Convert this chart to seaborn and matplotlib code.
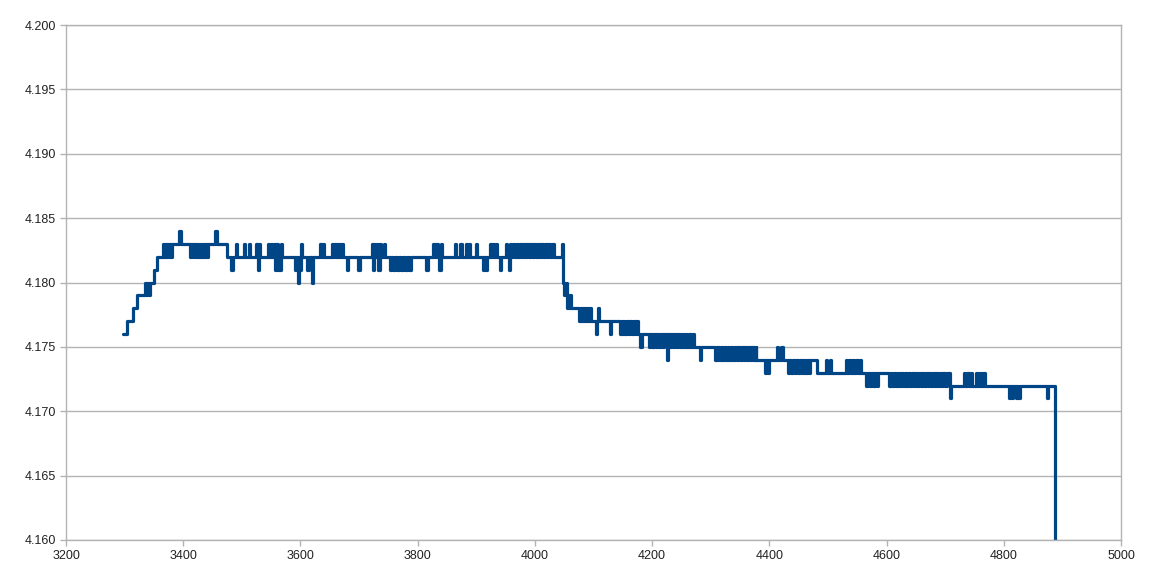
import matplotlib
matplotlib.use("Agg")
import matplotlib.pyplot as plt
import seaborn as sns
import pandas as pd

# sample position (x) and cell voltage in mV
rise_x = [3297, 3304, 3314, 3321, 3335, 3337, 3339, 3341, 3343, 3350, 3355,
          3366, 3367, 3369, 3371, 3373, 3375, 3377, 3379, 3381, 3393, 3396]
rise_mv = [4176, 4177, 4178, 4179, 4180, 4179, 4180, 4179, 4180, 4181, 4182,
           4183, 4182, 4183, 4182, 4183, 4182, 4183, 4182, 4183, 4184, 4183]

plateau_x = [3412, 3414, 3416, 3418, 3421, 3423, 3426, 3428, 3431, 3433, 3436, 3438,
             3441, 3443, 3455, 3458, 3475, 3482, 3485, 3490, 3492, 3503, 3505, 3512,
             3514, 3525, 3527, 3529, 3531, 3544, 3546, 3549, 3551, 3555, 3557, 3559,
             3561, 3563, 3565, 3567, 3569, 3590, 3592, 3595, 3597, 3599, 3601, 3603,
             3612, 3614, 3619, 3621, 3634, 3636, 3639, 3641, 3654, 3656, 3658, 3660,
             3662, 3664, 3667, 3669, 3671, 3673, 3679, 3681, 3699, 3701,
             3722, 3724, 3726, 3728, 3730, 3732, 3736, 3738, 3743, 3745,
             3753, 3755, 3758, 3762, 3765, 3768, 3771, 3775, 3778, 3782, 3785, 3789,
             3815, 3817, 3827, 3829, 3832, 3834, 3837, 3839, 3841,
             3864, 3866, 3873, 3875, 3882, 3884, 3887, 3889, 3899, 3901,
             3911, 3913, 3916, 3918, 3923, 3925, 3929, 3931, 3934, 3936,
             3941, 3943, 3950, 3952, 3956, 3958, 3960, 3963, 3966, 3969, 3972, 3975,
             3978, 3981, 3984, 3987, 3990, 3993, 3996, 3999, 4002, 4005, 4008, 4011,
             4014, 4017, 4020, 4023, 4026, 4029, 4032, 4046]
plateau_mv = [4182, 4183, 4182, 4183, 4182, 4183, 4182, 4183, 4182, 4183, 4182, 4183,
              4182, 4183, 4184, 4183, 4182, 4181, 4182, 4183, 4182, 4183, 4182, 4183,
              4182, 4183, 4181, 4183, 4182, 4183, 4182, 4183, 4182, 4183, 4181, 4183,
              4181, 4182, 4181, 4183, 4182, 4181, 4182, 4180, 4182, 4181, 4183, 4182,
              4181, 4182, 4180, 4182, 4183, 4182, 4183, 4182, 4183, 4182, 4183, 4182,
              4183, 4182, 4183, 4182, 4183, 4182, 4181, 4182, 4181, 4182,
              4183, 4181, 4183, 4182, 4183, 4181, 4183, 4182, 4183, 4182,
              4181, 4182, 4181, 4182, 4181, 4182, 4181, 4182, 4181, 4182, 4181, 4182,
              4181, 4182, 4183, 4182, 4183, 4182, 4181, 4183, 4182,
              4183, 4182, 4183, 4182, 4183, 4182, 4183, 4182, 4183, 4182,
              4181, 4182, 4181, 4182, 4183, 4182, 4183, 4182, 4183, 4182,
              4181, 4182, 4183, 4182, 4181, 4183, 4182, 4183, 4182, 4183, 4182, 4183,
              4182, 4183, 4182, 4183, 4182, 4183, 4182, 4183, 4182, 4183, 4182, 4183,
              4182, 4183, 4182, 4183, 4182, 4183, 4182, 4183]

drop_x = [4048, 4050, 4052, 4054, 4056, 4058, 4060, 4061,
          4076, 4078, 4080, 4082, 4084, 4086, 4088, 4090, 4092, 4094, 4096, 4098,
          4104, 4106, 4108, 4110, 4128, 4130,
          4146, 4148, 4150, 4152, 4154, 4157, 4160, 4163, 4166, 4169, 4172, 4174,
          4176, 4180, 4182,
          4194, 4197, 4200, 4203, 4206, 4209, 4212, 4215, 4218, 4221, 4225, 4227,
          4230, 4233, 4236, 4239, 4242, 4245, 4248, 4251, 4254, 4257, 4260, 4263,
          4266, 4269, 4271, 4282, 4284]
drop_mv = [4180, 4179, 4180, 4178, 4179, 4178, 4179, 4178,
           4177, 4178, 4177, 4178, 4177, 4178, 4177, 4178, 4177, 4178, 4177, 4177,
           4176, 4177, 4178, 4177, 4176, 4177,
           4176, 4177, 4176, 4177, 4176, 4177, 4176, 4177, 4176, 4177, 4176, 4177,
           4176, 4175, 4176,
           4175, 4176, 4175, 4176, 4175, 4176, 4175, 4176, 4175, 4176, 4174, 4176,
           4175, 4176, 4175, 4176, 4175, 4176, 4175, 4176, 4175, 4176, 4175, 4176,
           4175, 4176, 4175, 4174, 4175]

tail_x = [4308, 4311, 4314, 4317, 4320, 4323, 4326, 4329, 4332, 4335, 4338, 4341,
          4344, 4347, 4350, 4353, 4356, 4359, 4362, 4365, 4368, 4371, 4374, 4377,
          4378, 4393, 4395, 4398, 4400, 4413, 4415, 4420, 4423,
          4431, 4434, 4437, 4440, 4443, 4446, 4449, 4452, 4455, 4458, 4461, 4464,
          4467, 4470, 4474, 4481, 4496, 4498, 4503, 4505,
          4530, 4533, 4536, 4539, 4542, 4545, 4548, 4551, 4554, 4557,
          4565, 4568, 4571, 4574, 4577, 4580, 4583, 4585,
          4604, 4607, 4610, 4613, 4616, 4619, 4622, 4625, 4628, 4631, 4634, 4637,
          4640, 4643, 4646, 4649, 4652, 4655, 4658, 4661, 4664, 4667, 4670, 4673,
          4676, 4679, 4682, 4685, 4688, 4691, 4694, 4697, 4700, 4703,
          4708, 4710, 4732, 4734, 4738, 4740, 4744, 4746, 4752, 4754, 4757, 4759,
          4762, 4764, 4766, 4768,
          4809, 4811, 4814, 4816, 4820, 4822, 4825, 4827, 4874, 4876, 4887]
tail_mv = [4174, 4175, 4174, 4175, 4174, 4175, 4174, 4175, 4174, 4175, 4174, 4175,
           4174, 4175, 4174, 4175, 4174, 4175, 4174, 4175, 4174, 4175, 4174, 4175,
           4174, 4173, 4174, 4173, 4174, 4175, 4174, 4175, 4174,
           4173, 4174, 4173, 4174, 4173, 4174, 4173, 4174, 4173, 4174, 4173, 4174,
           4173, 4174, 4174, 4173, 4174, 4173, 4174, 4173,
           4174, 4173, 4174, 4173, 4174, 4173, 4174, 4173, 4174, 4173,
           4172, 4173, 4172, 4173, 4172, 4173, 4172, 4173,
           4172, 4173, 4172, 4173, 4172, 4173, 4172, 4173, 4172, 4173, 4172, 4173,
           4172, 4173, 4172, 4173, 4172, 4173, 4172, 4173, 4172, 4173, 4172, 4173,
           4172, 4173, 4172, 4173, 4172, 4173, 4172, 4173, 4172, 4173,
           4171, 4172, 4173, 4172, 4173, 4172, 4173, 4172, 4173, 4172, 4173, 4172,
           4173, 4172, 4173, 4172,
           4171, 4172, 4171, 4172, 4171, 4172, 4171, 4172, 4171, 4172, 4160]

x_ticks = [3200, 3400, 3600, 3800, 4000, 4200, 4400, 4600, 4800, 5000]
y_ticks = [4.160, 4.165, 4.170, 4.175, 4.180, 4.185, 4.190, 4.195, 4.200]

df = pd.DataFrame({
    "x": rise_x + plateau_x + drop_x + tail_x,
    "v": [m / 1000 for m in rise_mv + plateau_mv + drop_mv + tail_mv],
})

sns.set_theme(style="white")
plt.rcParams["font.family"] = ["Liberation Sans", "DejaVu Sans"]

fig = plt.figure(figsize=(11.65, 5.79), dpi=100)
ax = fig.add_axes([66 / 1165, 1 - 540 / 579, (1121 - 66) / 1165, (540 - 25) / 579])

sns.lineplot(data=df, x="x", y="v", ax=ax, estimator=None, sort=False,
             color="#004586", linewidth=2.3, drawstyle="steps-post")

ax.set_xlim(3200, 5000)
ax.set_ylim(4.160, 4.200)
ax.set_xticks(x_ticks)
ax.set_yticks(y_ticks)
ax.set_xticklabels([str(t) for t in x_ticks])
ax.set_yticklabels([f"{t:.3f}" for t in y_ticks])
ax.set_xlabel("")
ax.set_ylabel("")

ax.yaxis.grid(True, color="#b3b3b3", linewidth=1)
ax.xaxis.grid(False)
ax.set_axisbelow(True)
for side in ["left", "bottom", "right", "top"]:
    ax.spines[side].set_visible(True)
    ax.spines[side].set_color("#b3b3b3")
    ax.spines[side].set_linewidth(1)
ax.tick_params(axis="both", which="major", length=4, width=1, color="#b3b3b3",
               labelsize=9, labelcolor="#222222", direction="out",
               bottom=True, left=True, pad=3)

fig.savefig("out.png", dpi=100, facecolor="white")
